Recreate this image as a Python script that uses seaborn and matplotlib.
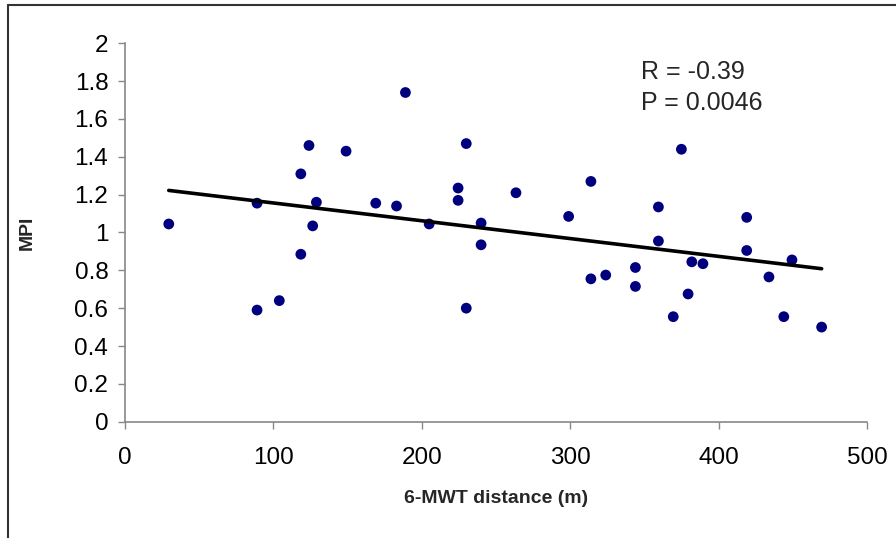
import numpy as np
import pandas as pd
import seaborn as sns
import matplotlib.pyplot as plt
from matplotlib.lines import Line2D
from matplotlib.ticker import FuncFormatter

# values
walk_dist = [29.5, 89, 89, 104, 118.5, 118.5, 124, 126.5, 129, 149,
             169, 183, 189, 205, 224.5, 224.5, 230, 230, 240, 240,
             263.5, 299, 314, 314, 324, 344, 344, 359.5, 359.5, 369.5,
             375, 379.5, 382, 389.5, 419, 419, 434, 444, 449.5, 469.5]
mpi = [1.045, 1.155, 0.59, 0.64, 1.31, 0.885, 1.46, 1.035, 1.16, 1.43,
       1.155, 1.14, 1.74, 1.045, 1.235, 1.17, 1.47, 0.6, 1.05, 0.935,
       1.21, 1.085, 1.27, 0.755, 0.775, 0.815, 0.715, 1.135, 0.955, 0.555,
       1.44, 0.675, 0.845, 0.835, 1.08, 0.905, 0.765, 0.555, 0.855, 0.5]
r_text = "R = -0.39"
p_text = "P = 0.0046"

df = pd.DataFrame({"dist": walk_dist, "mpi": mpi})

sns.set_style("ticks")
plt.rcParams['font.family'] = ['Liberation Sans', 'DejaVu Sans']

fig = plt.figure(figsize=(8.96, 5.38), dpi=100)
ax = fig.add_axes([0.1395, 0.2162, 0.828, 0.7033])

sns.regplot(data=df, x="dist", y="mpi", ax=ax, ci=None, truncate=True,
            scatter_kws=dict(color="#00007f", s=60, edgecolor="none", alpha=1),
            line_kws=dict(color="black", lw=2.6))

ax.set_xlim(0, 500)
ax.set_ylim(0, 2)
ax.set_xticks(np.arange(0, 501, 100))
ax.set_yticks(np.arange(0, 2.01, 0.2))
ax.yaxis.set_major_formatter(FuncFormatter(lambda v, p: f"{v:g}"))
ax.tick_params(axis="both", labelsize=17.5, colors="#888888", labelcolor="black",
               length=5, width=1)
ax.tick_params(axis="x", pad=13)
ax.tick_params(axis="y", pad=7)
for s in ["left", "bottom"]:
    ax.spines[s].set_color("#888888")
    ax.spines[s].set_linewidth(1.2)
sns.despine(ax=ax)

ax.set_xlabel("6-MWT distance (m)", fontsize=14, fontweight="bold", labelpad=15)
ax.set_ylabel("MPI", fontsize=14, fontweight="bold", labelpad=28)
ax.text(0.695, 0.924, r_text, transform=ax.transAxes, fontsize=18, va="center")
ax.text(0.695, 0.842, p_text, transform=ax.transAxes, fontsize=18, va="center")

# thin frame round the chart area
fig.add_artist(Line2D([8 / 896, 8 / 896], [0, 1 - 5 / 538], color="#333333", lw=1.5))
fig.add_artist(Line2D([8 / 896, 1], [1 - 5 / 538, 1 - 5 / 538], color="#333333", lw=1.5))

fig.savefig("out.png", dpi=100)
